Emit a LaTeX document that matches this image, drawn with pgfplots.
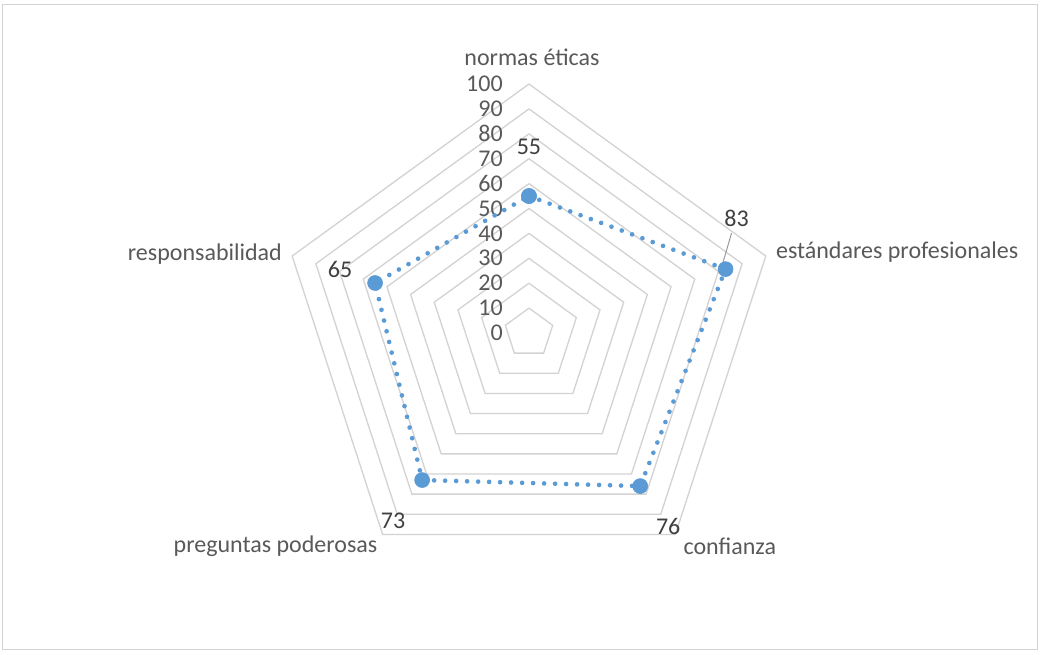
\documentclass[border=0pt]{standalone}
\usepackage{pgfplots}
\pgfplotsset{compat=1.18}
\usepgfplotslibrary{polar}
\usepackage{fontspec}
\setmainfont{Carlito}
\definecolor{gridc}{HTML}{D3D3D3}
\definecolor{txt}{HTML}{595959}
\definecolor{dlab}{HTML}{404040}
\definecolor{ser}{HTML}{5B9BD5}
\newcommand{\fs}{\fontsize{18}{21}\selectfont}
\begin{document}
\begin{tikzpicture}
\begin{polaraxis}[
  width=373.5pt, height=373.5pt, scale only axis,
  xmin=0, xmax=360, ymin=0, ymax=100,
  hide axis, clip=false,
]
\coordinate (C) at (axis cs:0,0);
\addplot[gridc, line width=1pt, mark=none] coordinates {(90,10)(18,10)(306,10)(234,10)(162,10)(90,10)};
\addplot[gridc, line width=1pt, mark=none] coordinates {(90,20)(18,20)(306,20)(234,20)(162,20)(90,20)};
\addplot[gridc, line width=1pt, mark=none] coordinates {(90,30)(18,30)(306,30)(234,30)(162,30)(90,30)};
\addplot[gridc, line width=1pt, mark=none] coordinates {(90,40)(18,40)(306,40)(234,40)(162,40)(90,40)};
\addplot[gridc, line width=1pt, mark=none] coordinates {(90,50)(18,50)(306,50)(234,50)(162,50)(90,50)};
\addplot[gridc, line width=1pt, mark=none] coordinates {(90,60)(18,60)(306,60)(234,60)(162,60)(90,60)};
\addplot[gridc, line width=1pt, mark=none] coordinates {(90,70)(18,70)(306,70)(234,70)(162,70)(90,70)};
\addplot[gridc, line width=1pt, mark=none] coordinates {(90,80)(18,80)(306,80)(234,80)(162,80)(90,80)};
\addplot[gridc, line width=1pt, mark=none] coordinates {(90,90)(18,90)(306,90)(234,90)(162,90)(90,90)};
\addplot[gridc, line width=1pt, mark=none] coordinates {(90,100)(18,100)(306,100)(234,100)(162,100)(90,100)};
% radial tick labels
\foreach \r in {0,10,20,30,40,50,60,70,80,90,100} {
  \edef\tmp{\noexpand\node[anchor=east, inner sep=0pt, text=txt, font=\noexpand\fs, xshift=-19.5pt] at (axis cs:90,\r) {\r};}
  \tmp
}
% series
\addplot[ser, line width=3.5pt, dash pattern=on 0pt off 8.25pt, line cap=round,
  mark=*, mark size=5.6pt, mark options={solid, fill=ser, draw=ser, line width=0.5pt}]
  coordinates {(90,55)(18,83)(306,76)(234,73)(162,65)(90,55)};
% leader line
\draw[gray!80, line width=0.75pt] ([shift={(4.5pt,27pt)}]axis cs:18,83) -- ([shift={(-2.5pt,3pt)}]axis cs:18,83);
% data labels
\node[text=dlab, font=\fs] at ([shift={(0pt,36.75pt)}]axis cs:90,55) {55};
\node[text=dlab, font=\fs] at ([shift={(8.25pt,38.25pt)}]axis cs:18,83) {83};
\node[text=dlab, font=\fs] at ([shift={(-26.25pt,9.75pt)}]axis cs:162,65) {65};
\node[text=dlab, font=\fs] at ([shift={(-21.75pt,-30.75pt)}]axis cs:234,73) {73};
\node[text=dlab, font=\fs] at ([shift={(21pt,-30pt)}]axis cs:306,76) {76};
% category labels
\node[text=txt, font=\fs, inner sep=0pt] at ([shift={(2.25pt,20.25pt)}]axis cs:90,100) {normas éticas};
\node[text=txt, font=\fs, inner sep=0pt, anchor=west] at ([shift={(7.5pt,3pt)}]axis cs:18,100) {estándares profesionales};
\node[text=txt, font=\fs, inner sep=0pt, anchor=west] at ([shift={(6pt,-9pt)}]axis cs:306,100) {confianza};
\node[text=txt, font=\fs, inner sep=0pt, anchor=east] at ([shift={(-3.75pt,-9pt)}]axis cs:234,100) {preguntas poderosas};
\node[text=txt, font=\fs, inner sep=0pt, anchor=east] at ([shift={(-7.5pt,1.5pt)}]axis cs:162,100) {responsabilidad};
\end{polaraxis}
\draw[gridc, line width=0.75pt] ([shift={(-394.5pt,246pt)}]C) rectangle ([shift={(381pt,-237.75pt)}]C);
\pgfresetboundingbox
\path ([shift={(-396.75pt,249.75pt)}]C) rectangle ([shift={(383.25pt,-241.5pt)}]C);
\end{tikzpicture}
\end{document}
